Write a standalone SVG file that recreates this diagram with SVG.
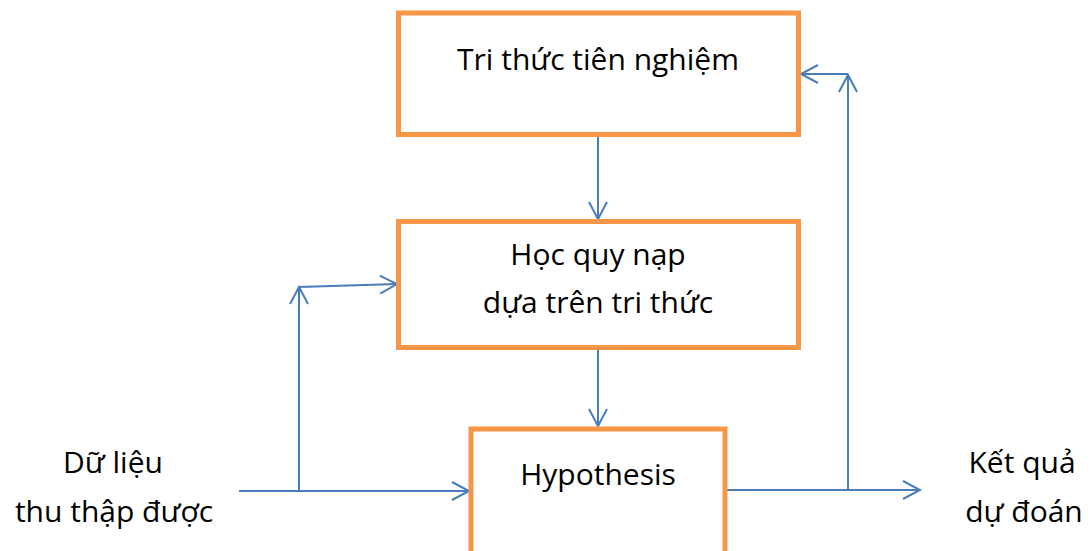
<svg xmlns="http://www.w3.org/2000/svg" width="1092" height="551" viewBox="0 0 1092 551">
<style>
.box{fill:#fff;stroke:#F79646;stroke-width:5}
.t{font-family:"Open Sans","Liberation Sans",sans-serif;font-size:30px;fill:#000;text-anchor:middle}
.c{fill:none;stroke:#4A7EBB;stroke-width:2;marker-end:url(#a)}
</style>
<defs>
<marker id="a" markerUnits="userSpaceOnUse" markerWidth="40" markerHeight="40" refX="0" refY="0" viewBox="-20 -20 40 40" orient="auto" overflow="visible">
<path d="M-17,-9 L0,0 L-17,9" fill="none" stroke="#4A7EBB" stroke-width="2"/>
</marker>
</defs>
<rect width="1092" height="551" fill="#fff"/>
<g id="connectors">
<path class="c" d="M598,137 L598,219"/>
<path class="c" d="M598,348 L598,426"/>
<path class="c" d="M239,491 L469,491"/>
<path class="c" d="M299,491 L299,287"/>
<path class="c" d="M299,287 L397,284"/>
<path class="c" d="M725,490 L920,490"/>
<path class="c" d="M848,490 L848,75"/>
<path class="c" d="M848,74 L801,74"/>
</g>
<g id="node-prior">
<rect class="box" x="398.5" y="13" width="400" height="121.5"/>
<text class="t" x="598" y="70">Tri thức tiên nghiệm</text>
</g>
<g id="node-learning">
<rect class="box" x="398.5" y="221.5" width="400" height="126"/>
<text class="t" x="598" y="265">Học quy nạp</text>
<text class="t" x="598" y="313">dựa trên tri thức</text>
</g>
<g id="node-hypothesis">
<rect class="box" x="471" y="429" width="254" height="140"/>
<text class="t" x="598" y="485">Hypothesis</text>
</g>
<g id="node-input">
<text class="t" x="113" y="473">Dữ liệu</text>
<text class="t" x="114" y="522">thu thập được</text>
</g>
<g id="node-output">
<text class="t" x="1022" y="473">Kết quả</text>
<text class="t" x="1024" y="522">dự đoán</text>
</g>
</svg>
